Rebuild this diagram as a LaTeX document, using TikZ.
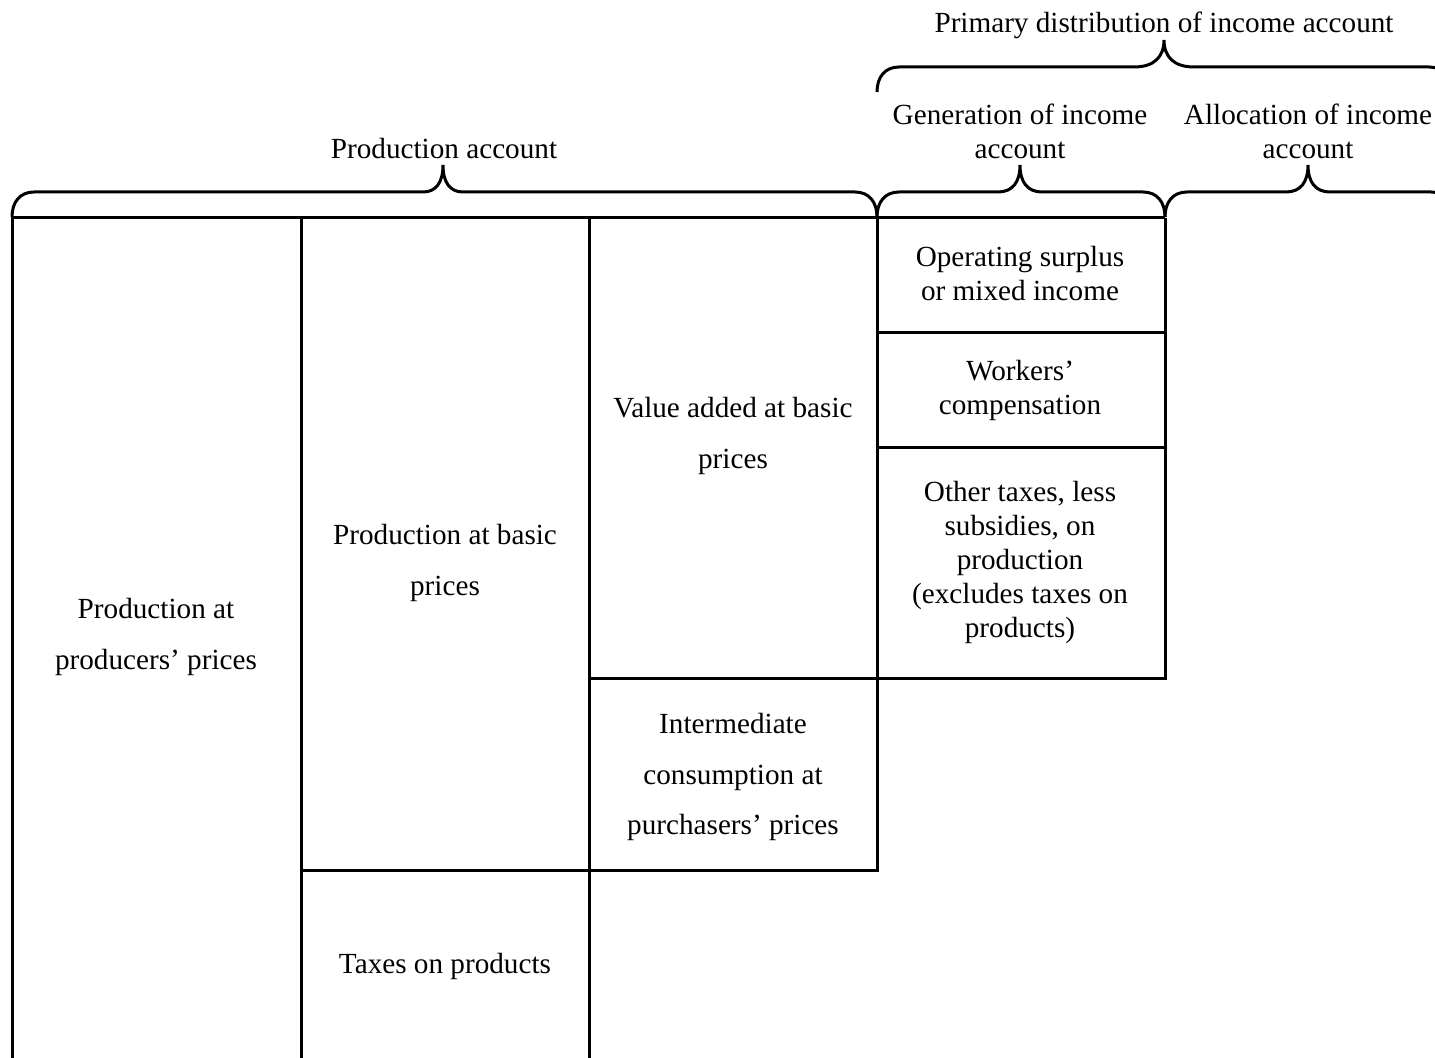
\documentclass[tikz,border=0pt]{standalone}
\usepackage{fontspec}
\setmainfont{Liberation Serif}
% curly brace: left end, tip, right end, baseline, curve width
\newcommand{\accbrace}[5]{%
  \draw (#1,#4) .. controls (#1,#4-15) and (#1+8,#4-25) .. (#1+22,#4-25)
    -- (#2-#5,#4-25) .. controls (#2-#5/3,#4-25) and (#2,#4-35) .. (#2,#4-52)
    .. controls (#2,#4-35) and (#2+#5/3,#4-25) .. (#2+#5,#4-25)
    -- (#3-22,#4-25) .. controls (#3-8,#4-25) and (#3,#4-15) .. (#3,#4);}

\begin{document}
\begin{tikzpicture}[x=0.5pt, y=-0.5pt, line width=1.5pt,
    txt/.style={align=center, inner sep=0pt, font=\fontsize{14.6}{17}\selectfont},
    widetxt/.style={align=center, inner sep=0pt, font=\fontsize{14.6}{25.3}\selectfont}]
    \useasboundingbox (0,0) rectangle (1435,1058);
    \clip (0,0) rectangle (1435,1058);

    % table lines
    \draw (12,1070) -- (12,218) -- (1165,218);
    \draw (301,1070) -- (301,218);
    \draw (589,1070) -- (589,218);
    \draw (301,870) -- (877,870) -- (877,218);
    \draw (589,678) -- (1165,678) -- (1165,218);
    \draw (877,333) -- (1165,333);
    \draw (877,448) -- (1165,448);

    % braces over the accounts
    \accbrace{12}{443}{877}{217}{20}
    \accbrace{877}{1020}{1165}{217}{22}
    \accbrace{1165}{1308}{1453}{217}{22}
    \accbrace{877}{1164}{1451}{92}{30}

    \node[txt] (primary) at (1164,25) {Primary distribution of income account};
    \node[txt] (generation) at (1020,131) {Generation of income\\account};
    \node[txt] (allocation) at (1308,131) {Allocation of income\\account};
    \node[txt] (production) at (444,149) {Production account};

    \node[txt] (surplus) at (1020,274) {Operating surplus\\or mixed income};
    \node[txt] (workers) at (1020,390) {Workers'\\compensation};
    \node[txt] (othertax) at (1020,562) {Other taxes, less\\subsidies, on\\production\\(excludes taxes on\\products)};
    \node[widetxt] (valueadded) at (733,436) {Value added at basic\\prices};
    \node[widetxt] (intermediate) at (733,777) {Intermediate\\consumption at\\purchasers' prices};
    \node[widetxt] (basic) at (445,563) {Production at basic\\prices};
    \node[txt] (taxes) at (445,966) {Taxes on products};
    \node[widetxt] (producers) at (156,637) {Production at\\producers' prices};
\end{tikzpicture}
\end{document}
